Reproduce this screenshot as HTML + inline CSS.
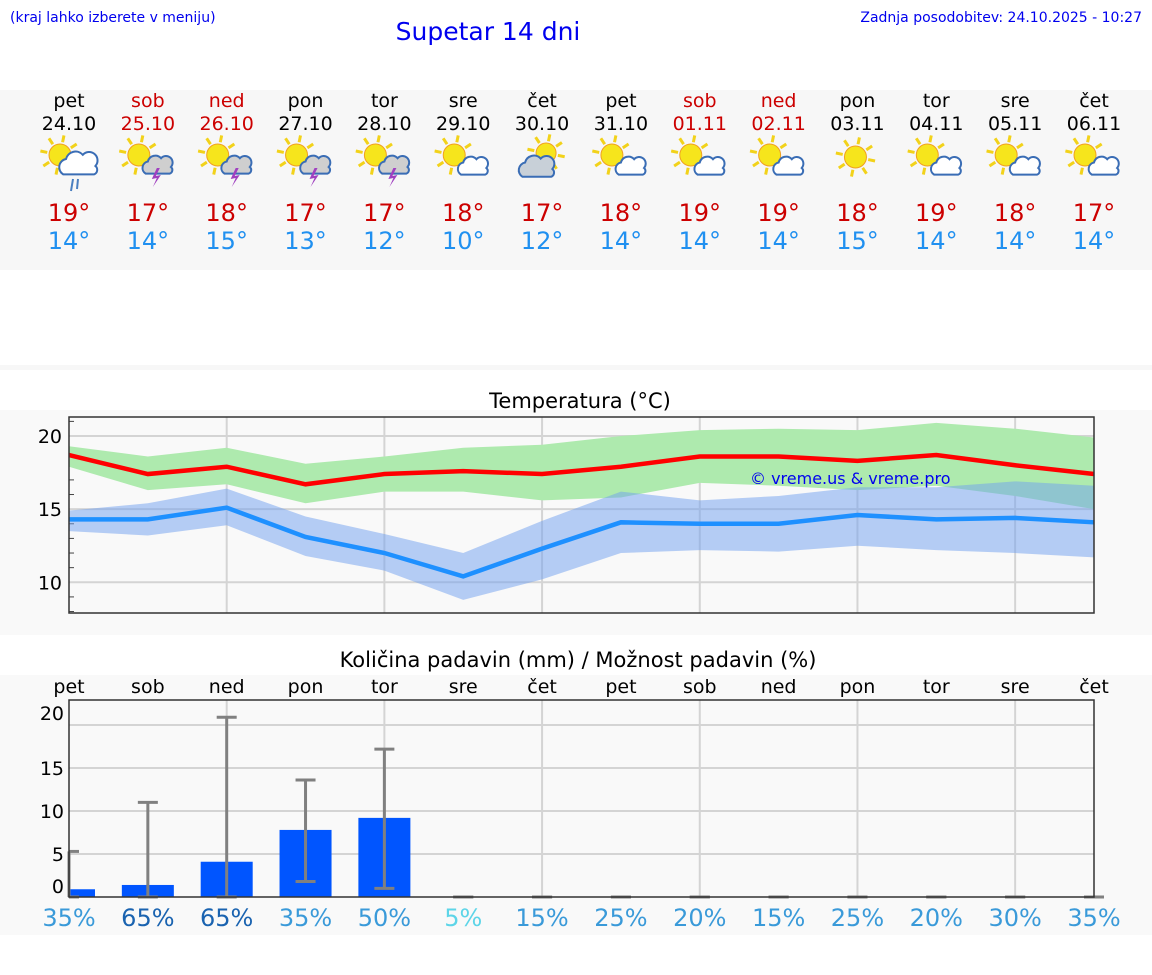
<!DOCTYPE html>
<html><head><meta charset="utf-8"><style>
body{margin:0;background:#fff;font-family:"DejaVu Sans","Liberation Sans",sans-serif}
svg{display:block}
</style></head><body>
<svg id="s" width="1152" height="975" xmlns="http://www.w3.org/2000/svg" font-family="DejaVu Sans, Liberation Sans, sans-serif">
<rect x="0" y="90" width="1152" height="180" fill="#f7f7f7"/>
<rect x="0" y="365" width="1152" height="5" fill="#f7f7f7"/>
<rect x="0" y="410" width="1152" height="225" fill="#f9f9f9"/>
<rect x="0" y="675" width="1152" height="260" fill="#f9f9f9"/>
<text x="10" y="22" font-size="14" fill="#0000ee">(kraj lahko izberete v meniju)</text>
<text x="488" y="40" font-size="25" fill="#0000ee" text-anchor="middle">Supetar 14 dni</text>
<text x="1142" y="22" font-size="14" fill="#0000ee" text-anchor="end">Zadnja posodobitev: 24.10.2025 - 10:27</text>
<text x="580" y="408" font-size="21" text-anchor="middle" fill="#000">Temperatura (°C)</text>
<text x="578" y="667" font-size="21" text-anchor="middle" fill="#000">Količina padavin (mm) / Možnost padavin (%)</text>
<g id="days"></g>
<g id="temp"></g>
<g id="prec"></g>
</svg>
<script>
const dayNames=["pet","sob","ned","pon","tor","sre","čet","pet","sob","ned","pon","tor","sre","čet"];
const dates=["24.10","25.10","26.10","27.10","28.10","29.10","30.10","31.10","01.11","02.11","03.11","04.11","05.11","06.11"];
const weekend=[0,1,1,0,0,0,0,0,1,1,0,0,0,0];
const icons=["rain","thunder","thunder","thunder","thunder","partly","cloudy","partly","partly","partly","sun","partly","partly","partly"];
const maxT=[19,17,18,17,17,18,17,18,19,19,18,19,18,17];
const minT=[14,14,15,13,12,10,12,14,14,14,15,14,14,14];
const tMax=[18.7,17.4,17.9,16.7,17.4,17.6,17.4,17.9,18.6,18.6,18.3,18.7,18.0,17.4];
const tMaxHi=[19.3,18.6,19.2,18.1,18.6,19.2,19.4,20.0,20.4,20.5,20.4,20.9,20.5,19.9];
const tMaxLo=[17.9,16.3,16.7,15.4,16.2,16.2,15.6,15.8,16.8,16.6,16.3,16.6,15.9,15.0];
const tMin=[14.3,14.3,15.1,13.1,12.0,10.4,12.3,14.1,14.0,14.0,14.6,14.3,14.4,14.1];
const tMinHi=[14.9,15.4,16.4,14.5,13.3,12.0,14.2,16.2,15.6,15.9,16.5,16.5,16.9,16.6];
const tMinLo=[13.5,13.2,13.9,11.8,10.8,8.8,10.2,12.0,12.2,12.1,12.5,12.2,12.0,11.7];
const tTicks=[10,15,20];
const precip=[0.9,1.4,4.1,7.8,9.2,0,0,0,0,0,0,0,0,0];
const precLo=[0,0,0,1.8,1.0,0,0,0,0,0,0,0,0,0];
const precHi=[5.3,11,20.9,13.6,17.2,0,0,0,0,0,0,0,0,0];
const chance=[35,65,65,35,50,5,15,25,20,15,25,20,30,35];
const pTicks=[0,5,10,15,20];
const NS="http://www.w3.org/2000/svg";
function mk(p,t,a){const e=document.createElementNS(NS,t);for(const k in a)e.setAttribute(k,a[k]);p.appendChild(e);return e;}
const X0=69,X1=1094,dx=(X1-X0)/13;
const xd=i=>X0+i*dx;
const D=document.getElementById('days');
function sun(g,cx,cy,r){for(let k=0;k<8;k++){const a=k*Math.PI/4+0.2;mk(g,'line',{x1:cx+Math.cos(a)*(r+2),y1:cy+Math.sin(a)*(r+2),x2:cx+Math.cos(a)*(r+9),y2:cy+Math.sin(a)*(r+9),stroke:'#f2d21a','stroke-width':3});}mk(g,'circle',{cx:cx,cy:cy,r:r,fill:'#f6e51c',stroke:'#f0a020','stroke-width':1});}
function cloud(g,cx,cy,s,fill){const p=`M${cx-12*s},${cy+6*s} a${6*s},${6*s} 0 0 1 ${2*s},${-11*s} a${7*s},${7*s} 0 0 1 ${12*s},${-3*s} a${6*s},${6*s} 0 0 1 ${9*s},${8*s} a${3.5*s},${3.5*s} 0 0 1 ${-1*s},${6*s} z`;mk(g,'path',{d:p,fill:fill,stroke:'#3a6db5','stroke-width':2});}
for(let i=0;i<14;i++){const x=xd(i);const col=weekend[i]?'#cc0000':'#000';
const t1=mk(D,'text',{x:x,y:107,'font-size':19,'text-anchor':'middle',fill:col});t1.textContent=dayNames[i];


const t2=mk(D,'text',{x:x,y:130,'font-size':19,'text-anchor':'middle',fill:col});t2.textContent=dates[i];


const g=mk(D,'g',{});


const ic=icons[i];
if(ic==='cloudy'){sun(g,x+4,153,10);cloud(g,x-4,169,1.3,'#c8d0d8');}
else if(ic==='sun'){sun(g,x-2,157,11);}
else{sun(g,x-9,155,11);
 if(ic==='rain'){cloud(g,x+11,166,1.4,'#fff');mk(g,'line',{x1:x+4,y1:179,x2:x+2,y2:191,stroke:'#4a7fc0','stroke-width':2});mk(g,'line',{x1:x+9,y1:179,x2:x+8,y2:189,stroke:'#4a7fc0','stroke-width':2});}
 else if(ic==='thunder'){cloud(g,x+11,167,1.1,'#cfcfcf');mk(g,'path',{d:`M${x+9},${168} l-5,11 l5,-1 l-4,9 l8,-12 l-5,1 l4,-8z`,fill:'#a040c0'});}
 else cloud(g,x+11,168,1.1,'#fff');}
const t3=mk(D,'text',{x:x,y:221,'font-size':24,'text-anchor':'middle',fill:'#cc0000'});t3.textContent=maxT[i]+'°';


const t4=mk(D,'text',{x:x,y:249,'font-size':24,'text-anchor':'middle',fill:'#2090f0'});t4.textContent=minT[i]+'°';

}
const T=document.getElementById('temp');
const TY0=417,TY1=613,tmin=7.9,tmax=21.3;
const ty=v=>TY1-(v-tmin)/(tmax-tmin)*(TY1-TY0);
for(const v of [8,9,11,12,13,14,16,17,18,19,21])mk(T,'line',{x1:X0,x2:X0+5,y1:ty(v),y2:ty(v),stroke:'#444'});
for(const v of tTicks){mk(T,'line',{x1:X0,x2:X1,y1:ty(v),y2:ty(v),stroke:'#d4d4d4','stroke-width':2});const t=mk(T,'text',{x:62,y:ty(v)+7,'font-size':19,'text-anchor':'end'});t.textContent=v;

}
for(let i=2;i<14;i+=2)mk(T,'line',{x1:xd(i),x2:xd(i),y1:TY0,y2:TY1,stroke:'#d4d4d4','stroke-width':2});
function band(hi,lo,fill,op,name){let d='M'+hi.map((v,i)=>xd(i)+','+ty(v)).join(' L');for(let i=lo.length-1;i>=0;i--)d+=' L'+xd(i)+','+ty(lo[i]);const p=mk(T,'path',{d:d+'Z',fill:fill,'fill-opacity':op});

}
function line(v,c,name){const p=mk(T,'polyline',{points:v.map((a,i)=>xd(i)+','+ty(a)).join(' '),fill:'none',stroke:c,'stroke-width':4.5});

}
band(tMaxHi,tMaxLo,'#aeeaae',1,'max-temp-band');
band(tMinHi,tMinLo,'#6f9ff0',0.5,'min-temp-band');
line(tMax,'#ff0000','max-temp-line');line(tMin,'#1e90ff','min-temp-line');
mk(T,'rect',{x:X0,y:TY0,width:X1-X0,height:TY1-TY0,fill:'none',stroke:'#333','stroke-width':1.5});
const wm=mk(T,'text',{x:750,y:484,'font-size':16,fill:'#0000ee'});wm.textContent='© vreme.us & vreme.pro';


const P=document.getElementById('prec');
const PY0=700,PY1=897,pmax=(PY1-PY0)/8.6;
const py=v=>PY1-v/pmax*(PY1-PY0);
for(const v of pTicks){if(v>0)mk(P,'line',{x1:X0,x2:X1,y1:py(v),y2:py(v),stroke:'#d4d4d4','stroke-width':2});const t=mk(P,'text',{x:64,y:py(v)+(v===0?-4:v===20?-5:7),'font-size':19,'text-anchor':'end'});t.textContent=v;

}
for(let i=2;i<14;i+=2)mk(P,'line',{x1:xd(i),x2:xd(i),y1:PY0,y2:PY1,stroke:'#d4d4d4','stroke-width':2});
const bw=52;
for(let i=0;i<14;i++){const x=xd(i);
const dl=mk(P,'text',{x:x,y:693,'font-size':19,'text-anchor':'middle'});dl.textContent=dayNames[i];


if(precip[i]>0){const x0=Math.max(X0,x-bw/2);const r=mk(P,'rect',{x:x0,y:py(precip[i]),width:x+bw/2-x0,height:PY1-py(precip[i]),fill:'#0055ff'});

}
const e=mk(P,'g',{stroke:'#808080','stroke-width':3});


mk(e,'line',{x1:x,x2:x,y1:py(precHi[i]),y2:py(precLo[i])});
mk(e,'line',{x1:Math.max(X0,x-10),x2:x+10,y1:py(precHi[i]),y2:py(precHi[i])});
mk(e,'line',{x1:Math.max(X0,x-10),x2:x+10,y1:py(precLo[i]),y2:py(precLo[i])});
const c=chance[i];const col=c>=60?'#1a63b0':c<=5?'#5dd5e8':'#3a9ad9';
const ct=mk(P,'text',{x:x,y:926,'font-size':24,'text-anchor':'middle',fill:col});ct.textContent=c+'%';

}
mk(P,'rect',{x:X0,y:PY0,width:X1-X0,height:PY1-PY0,fill:'none',stroke:'#333','stroke-width':1.5});
</script>
</body></html>
